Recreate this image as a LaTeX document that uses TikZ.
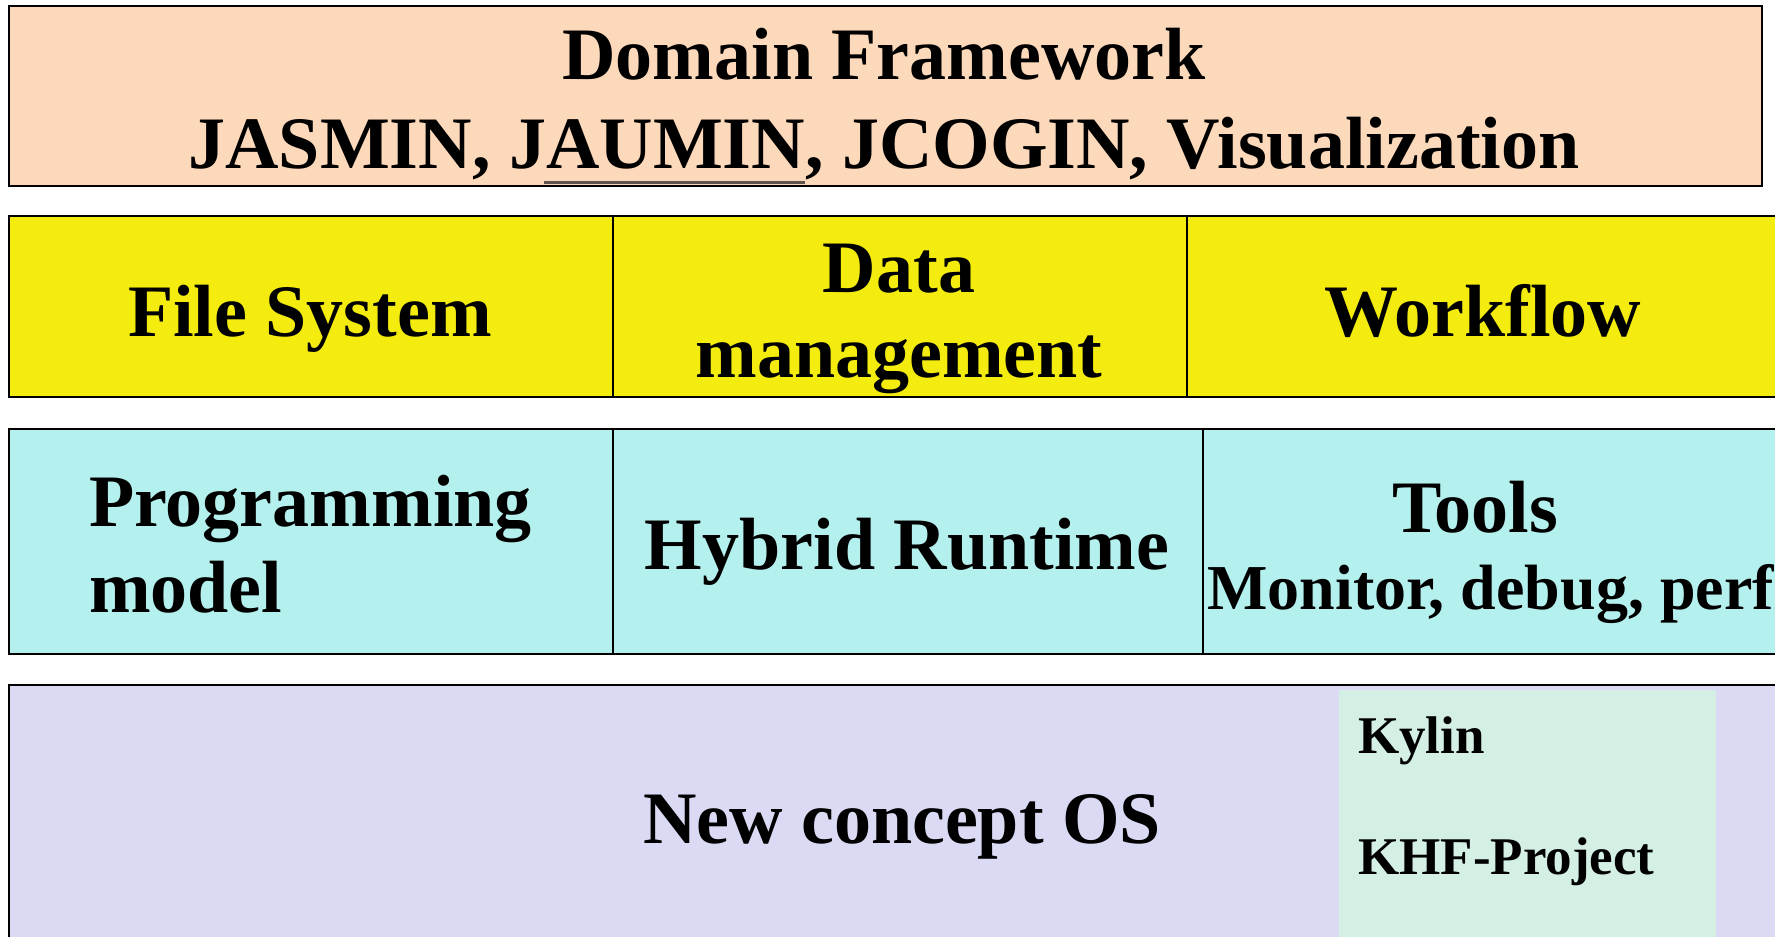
\documentclass[tikz,border=0pt]{standalone}
\usepackage{fontspec}
\setmainfont{Liberation Serif}
\definecolor{peach}{RGB}{253,217,187}
\definecolor{yel}{RGB}{244,236,14}
\definecolor{cyanbox}{RGB}{180,240,238}
\definecolor{lav}{RGB}{218,218,245}
\definecolor{mint}{RGB}{212,240,228}
\definecolor{uline}{RGB}{95,85,78}
\begin{document}
\begin{tikzpicture}[x=1pt,y=-1pt,
  cell/.style={draw=black,line width=2pt,inner sep=0pt,anchor=north west},
  big/.style={font=\fontsize{74}{85}\selectfont\bfseries,inner sep=0pt,anchor=base},
  bigl/.style={big,anchor=base west},
  mid/.style={font=\fontsize{64}{72}\selectfont\bfseries,inner sep=0pt,anchor=base west},
  small/.style={font=\fontsize{53}{60}\selectfont\bfseries,inner sep=0pt,anchor=base west}]
\useasboundingbox (0,0) rectangle (1775,937);
\clip (0,0) rectangle (1775,937);
% top layer
\node[cell,fill=peach,minimum width=1753,minimum height=180] (dom) at (8,5) {};
\node[big] (t1) at (884,79) {Domain Framework};
\node[big] (t2) at (884,168) {JASMIN, JAUMIN, JCOGIN, Visualization};
\coordinate (ulA) at (544,182);
\coordinate (ulB) at (805,182);
\draw[uline,line width=3pt] (ulA) -- (ulB);
% yellow layer
\node[cell,fill=yel,minimum width=604,minimum height=181] (fs) at (8,215) {};
\node[cell,fill=yel,minimum width=574,minimum height=181] (dm) at (612,215) {};
\node[cell,fill=yel,minimum width=620,minimum height=181] (wf) at (1186,215) {};
\node[big] (tfs) at (310,336) {File System};
\node[big] (tdm1) at (899,292) {Data};
\node[big] (tdm2) at (899,377) {management};
\node[big] (twf) at (1483,336) {Workflow};
% cyan layer
\node[cell,fill=cyanbox,minimum width=604,minimum height=225] (pm) at (8,428) {};
\node[cell,fill=cyanbox,minimum width=590,minimum height=225] (hr) at (612,428) {};
\node[cell,fill=cyanbox,minimum width=620,minimum height=225] (tl) at (1202,428) {};
\node[bigl] (tpm1) at (89,526) {Programming};
\node[bigl] (tpm2) at (89,612) {model};
\node[big] (thr) at (907,569) {Hybrid Runtime};
\node[big] (ttl1) at (1475,532) {Tools};
\node[mid] (ttl2) at (1207,609) {Monitor, debug, perf};
% OS layer
\node[cell,fill=lav,minimum width=1800,minimum height=300] (os) at (8,684) {};
\node[fill=mint,inner sep=0pt,anchor=north west,minimum width=377,minimum height=260] (kb) at (1339,690) {};
\node[big] (tos) at (902,843) {New concept OS};
\node[small] (tky) at (1358,753) {Kylin};
\node[small] (tkhf) at (1358,874) {KHF-Project};
\end{tikzpicture}
\end{document}
